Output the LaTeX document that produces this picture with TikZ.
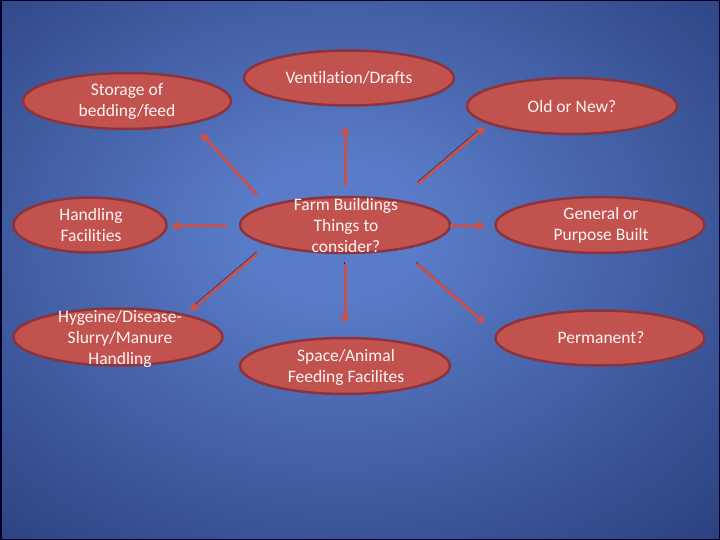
\documentclass[tikz,border=0pt]{standalone}
\usepackage{fontspec}
\setmainfont[Ligatures=NoCommon]{Carlito}
\usetikzlibrary{shapes.geometric,arrows.meta}
\definecolor{bgin}{RGB}{90,124,200}
\definecolor{bgout}{RGB}{30,48,108}
\definecolor{bgcorner}{RGB}{20,34,84}
\definecolor{efill}{RGB}{194,82,78}
\definecolor{edraw}{RGB}{140,52,62}
\definecolor{arr}{RGB}{196,82,80}
\definecolor{shadowc}{RGB}{28,36,85}
\pgfdeclareradialshading{bgshade}{\pgfpoint{-2bp}{4bp}}{color(0bp)=(bgin);color(6bp)=(bgin);color(46bp)=(bgout);color(72bp)=(bgcorner)}
\tikzset{
  ell/.style={ellipse, draw=edraw, fill=efill, line width=2.5pt, inner sep=0pt},
  lbl/.style={text=white!96!red, font=\fontsize{17.5}{21}\selectfont, align=center, inner sep=0pt},
  conn/.style={draw=arr, line width=3pt, -{Triangle[length=8pt,width=10pt]}},
  connshadow/.style={draw=shadowc, line width=1pt, shorten >=5pt}
}
\begin{document}
\begin{tikzpicture}[x=1pt,y=-1pt]
\useasboundingbox (0,0) rectangle (720,540);
\shade[shading=bgshade] (0,0) rectangle (720,540);
\draw[black!85!blue, line width=3pt] (0,0) rectangle (720,540);

% ellipses
\node[ell, minimum width=208, minimum height=56] (stor) at (127,101) {};
\node[ell, minimum width=210, minimum height=55] (vent) at (349,78) {};
\node[ell, minimum width=210, minimum height=56] (old) at (572,106) {};
\node[ell, minimum width=153, minimum height=55] (hand) at (90,225) {};
\node[ell, minimum width=210, minimum height=56] (hub) at (345,225) {};
\node[ell, minimum width=209, minimum height=56] (gen) at (600,225) {};
\node[ell, minimum width=209, minimum height=57] (hyg) at (118,337) {};
\node[ell, minimum width=210, minimum height=56] (space) at (345,366) {};
\node[ell, minimum width=209, minimum height=55] (perm) at (600,338) {};

% texts
\node[lbl] (storT) at (127,102) {Storage of\\bedding/feed};
\node[lbl] (ventT) at (349,78) {Ventilation/Drafts};
\node[lbl] (oldT) at (572,106) {Old or New?};
\node[lbl] (handT) at (91,225) {Handling\\Facilities};
\node[lbl] (hubT) at (346,225) {Farm Buildings\\Things to\\consider?};
\node[lbl] (genT) at (601,225) {General or\\Purpose Built};
\node[lbl] (hygT) at (120,339) {Hygeine/Disease-\\Slurry/Manure\\Handling};
\node[lbl] (spaceT) at (346,367) {Space/Animal\\Feeding Facilites};
\node[lbl] (permT) at (601,338) {Permanent?};

% connector end points
\coordinate (s1) at (257,195); \coordinate (t1) at (201,133);
\coordinate (s2) at (345,186); \coordinate (t2) at (345,126);
\coordinate (s3) at (418,184); \coordinate (t3) at (485,127);
\coordinate (s4) at (227,226); \coordinate (t4) at (171,226);
\coordinate (s5) at (450,226); \coordinate (t5) at (485,226);
\coordinate (s6) at (257,254); \coordinate (t6) at (190,311);
\coordinate (s7) at (345,264); \coordinate (t7) at (345,323);
\coordinate (s8) at (417,264); \coordinate (t8) at (485,323);

\foreach \i in {1,...,8}{
  \draw[connshadow] ([shift={(-0.6pt,1.6pt)}]s\i) -- ([shift={(-0.6pt,1.6pt)}]t\i);
  \draw[conn] (s\i) -- (t\i);
}
\end{tikzpicture}
\end{document}
